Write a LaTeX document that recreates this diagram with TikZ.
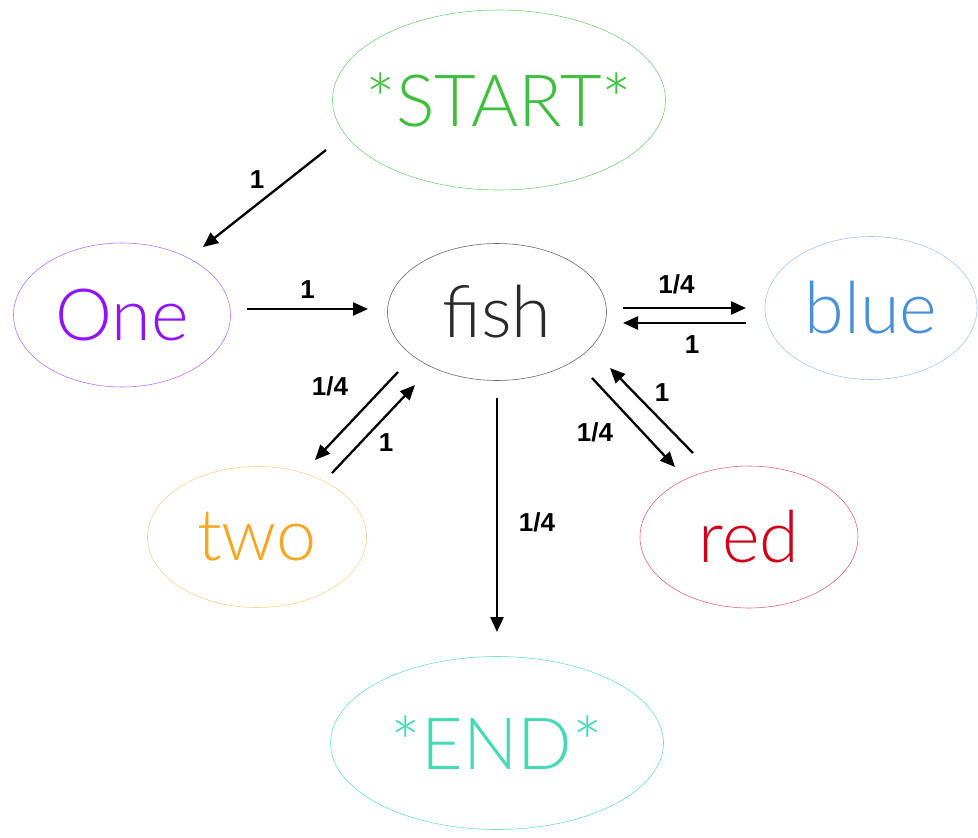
\documentclass[tikz,border=0pt]{standalone}
\usepackage{fontspec}
\usetikzlibrary{shapes.geometric,arrows.meta,calc}
\IfFontExistsTF{Lato Light}{\newfontfamily\thinfont{Lato Light}}{\newfontfamily\thinfont{Lato}}
\newfontfamily\labfont{Liberation Sans}
\definecolor{cstart}{HTML}{3FBF3F}
\definecolor{cone}{HTML}{9013FE}
\definecolor{cblue}{HTML}{4A90D9}
\definecolor{ctwo}{HTML}{F5A623}
\definecolor{cred}{HTML}{D0021B}
\definecolor{cend}{HTML}{45D9B8}
\definecolor{cfish}{HTML}{2A2A2A}
\newcommand{\zw}[1]{\makebox[0pt]{#1}}
\begin{document}
\begin{tikzpicture}[x=1pt,y=-1pt,
  st/.style={ellipse,draw,line width=0.6pt,inner sep=0pt,font=\thinfont\fontsize{72}{72}\selectfont},
  arr/.style={-{Triangle[length=15pt,width=13pt]},line width=2.3pt,black},
  lab/.style={font=\labfont\bfseries\fontsize{26}{26}\selectfont,black,inner sep=0pt,midway}]
\useasboundingbox (0,0) rectangle (978,838);
\node[st,draw=cstart!70,text=cstart,minimum width=333pt,minimum height=180pt] (start) at (499,100) {\zw{*START*}};
\node[st,draw=cone!60,text=cone,minimum width=217pt,minimum height=144pt] (one) at (122,315) {\zw{One}};
\node[st,draw=cfish!70,text=cfish,minimum width=219pt,minimum height=137pt] (fish) at (497,312) {\zw{fish}};
\node[st,draw=cblue!50,text=cblue,minimum width=212pt,minimum height=143pt] (blue) at (871,308) {\zw{blue}};
\node[st,draw=ctwo!50,text=ctwo,minimum width=219pt,minimum height=141pt] (two) at (257,537) {\zw{two}};
\node[st,draw=cred!60,text=cred,minimum width=218pt,minimum height=142pt] (red) at (749,537) {\zw{red}};
\node[st,draw=cend!80,text=cend,minimum width=333pt,minimum height=173pt] (end) at (497,743) {\zw{*END*}};

\draw[arr] ($(start.center)+(-173,50)$) -- node[lab,shift={(-7.5,-18.5)}] {1} ($(one.center)+(81,-68)$);
\draw[arr] ($(one.center)+(125,-6)$) -- node[lab,shift={(0,-19)}] {1} ($(fish.center)+(-129,-3)$);
\draw[arr] ($(fish.center)+(126,-4)$) -- node[lab,shift={(-8,-24)}] {1/4} ($(blue.center)+(-125,0)$);
\draw[arr] ($(blue.center)+(-125,15)$) -- node[lab,shift={(7.5,22)}] {1} ($(fish.center)+(126,11)$);
\draw[arr] ($(fish.center)+(-99,60)$) -- node[lab,shift={(-26.5,-30)}] {1/4} ($(two.center)+(58,-77)$);
\draw[arr] ($(two.center)+(75,-64)$) -- node[lab,shift={(12.5,14)}] {1} ($(fish.center)+(-82,73)$);
\draw[arr] ($(fish.center)+(95,66)$) -- node[lab,shift={(-38.5,9.5)}] {1/4} ($(red.center)+(-74,-70)$);
\draw[arr] ($(red.center)+(-56,-84)$) -- node[lab,shift={(10.5,-17.5)}] {1} ($(fish.center)+(113,56)$);
\draw[arr] ($(fish.center)+(0,86)$) -- node[lab,shift={(40,7)}] {1/4} ($(end.center)+(0,-111)$);
\end{tikzpicture}
\end{document}
